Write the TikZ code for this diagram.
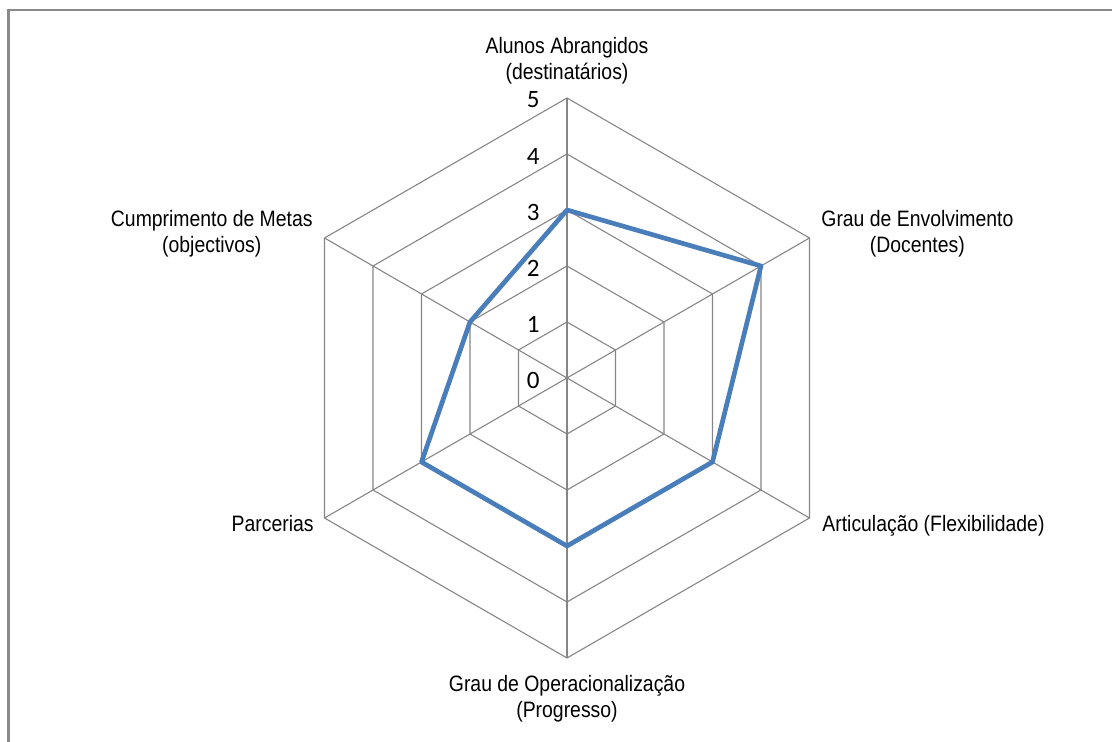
\documentclass[tikz,border=0pt]{standalone}
\usepackage{fontspec}
\setmainfont{Liberation Sans}[FakeStretch=0.87]
\newfontfamily\digitfont{Carlito}
\definecolor{gridgray}{HTML}{868686}
\definecolor{framegray}{HTML}{8A8A8A}
\definecolor{seriesblue}{HTML}{4A7EBB}
\tikzset{
  gridline/.style={draw=gridgray,line width=0.55pt},
  series/.style={draw=seriesblue,line width=2.35pt,line join=round},
  axislabel/.style={inner sep=0pt,align=center,font=\fontsize{11.15}{13}\selectfont},
  ticklabel/.style={inner sep=0pt,anchor=east,font=\digitfont\fontsize{12.5}{14}\selectfont}
}
\begin{document}
\begin{tikzpicture}[x=0.5pt,y=0.5pt]
\useasboundingbox (-567,-364) rectangle (545,378);
\draw[draw=framegray,line width=1.25pt] (-558.5,-420) -- (-558.5,368) -- (620,368);
% rings and spokes
\foreach \k [evaluate=\k as \r using 56*\k] in {1,...,5}
  \draw[gridline] (90:\r) -- (30:\r) -- (-30:\r) -- (-90:\r) -- (-150:\r) -- (150:\r) -- cycle;
\foreach \a in {90,30,-30,-90,-150,150}
  \draw[gridline] (0,0) -- (\a:280);
\foreach \k in {0,...,5}
  \node[ticklabel] (t\k) at (-27,{56*\k-2}) {\k};
% values 3 4 3 3 3 2
\coordinate (v1) at (90:168);
\coordinate (v2) at (30:224);
\coordinate (v3) at (-30:168);
\coordinate (v4) at (-90:168);
\coordinate (v5) at (-150:168);
\coordinate (v6) at (150:112);
\draw[series] (v1) -- (v2) -- (v3) -- (v4) -- (v5) -- (v6) -- cycle;
\node[axislabel,anchor=south] (alunos) at (0,293.3) {Alunos Abrangidos\\(destinatários)};
\node[axislabel,anchor=south west] (envolv) at (254,120.3) {Grau de Envolvimento\\(Docentes)};
\node[axislabel,anchor=base west] (artic) at (255,-154) {Articulação (Flexibilidade)};
\node[axislabel,anchor=south] (operac) at (0,-344.7) {Grau de Operacionalização\\(Progresso)};
\node[axislabel,anchor=base east] (parc) at (-253,-154) {Parcerias};
\node[axislabel,anchor=south east] (metas) at (-254,120.3) {Cumprimento de Metas\\(objectivos)};
\end{tikzpicture}
\end{document}
